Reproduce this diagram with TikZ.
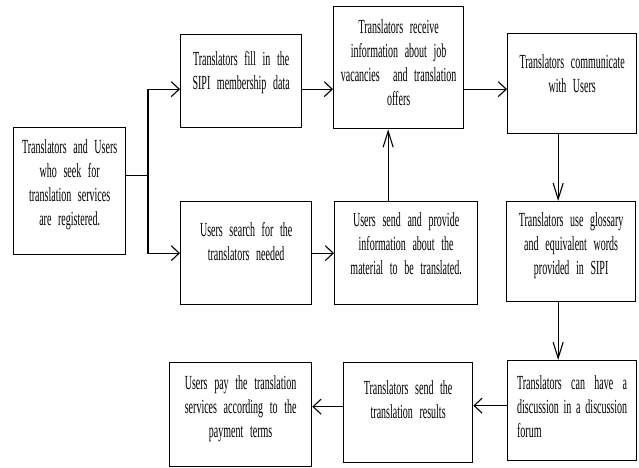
\documentclass[tikz,border=0pt]{standalone}
\usepackage{fontspec}
\usepackage{tikz}
\usetikzlibrary{arrows.meta,calc,positioning}
\newfontfamily\flowfont{Liberation Serif}[FakeStretch=0.5]
\newcommand{\flowtext}{\flowfont\fontsize{20}{24}\selectfont\spaceskip=2.6pt plus 2pt minus 0.8pt\relax}
\tikzset{
  stage/.style={draw,line width=1.3pt,align=center,inner xsep=4pt,inner ysep=0pt,
    anchor=north west,font=\flowtext},
  hflow/.style={line width=1.1pt,-{Straight Barb[length=8pt,width=15pt,line width=1.1pt]}},
  vflow/.style={line width=1.1pt,-{Straight Barb[length=16pt,width=10pt,line width=1.1pt]}}
}

\begin{document}
\begin{tikzpicture}[x=1pt,y=-1pt]
  \useasboundingbox (0,0) rectangle (639,467);
  % first column
  \node[stage,text width=104pt,text height=26pt,text depth=101pt] (reg) at (13,127)
    {Translators and Users\\ who seek for\\ translation services\\ are registered.};
  % upper row
  \node[stage,text width=113pt,text height=31pt,text depth=62pt] (fill) at (180,34)
    {Translators fill in the\\ SIPI membership data};
  \node[stage,text width=122pt,text height=27pt,text depth=95pt] (recv) at (333,6)
    {Translators receive\\ information about job\\ vacancies\ \ and translation\\ offers};
  \node[stage,text width=121pt,text height=35pt,text depth=65pt] (comm) at (507,33)
    {Translators communicate\\ with Users};
  % middle row
  \node[stage,text width=123pt,text height=35pt,text depth=68pt] (search) at (180,201)
    {Users search for the\\ translators needed};
  \node[stage,text width=135pt,text height=25pt,text depth=78pt] (send) at (334,201)
    {Users send and provide\\ information about the\\ material to be translated.};
  \node[stage,text width=121pt,text height=25pt,text depth=75pt] (gloss) at (506,201)
    {Translators use glossary\\ and equivalent words\\ provided in SIPI};
  % lower row
  \node[stage,align=justify,text width=110pt,minimum width=129pt,text height=29pt,text depth=71pt] (forum) at (507,360)
    {Translators can have a\linebreak discussion in a discussion\linebreak forum};
  \node[stage,text width=121pt,text height=32pt,text depth=68pt] (result) at (343,362)
    {Translators send the\\ translation results};
  \node[stage,text width=134pt,text height=27pt,text depth=77pt] (pay) at (169,362)
    {Users pay the translation\\ services according to the\\ payment terms};

  % connectors
  \coordinate (fork) at (148,175.5);
  \draw[line width=1.1pt] (reg.east |- fork) -- (fork);
  \draw[hflow] (fork) |- ([yshift=-8pt]fill.west);
  \draw[hflow] (fork) |- (search.west);
  \draw[hflow] ([yshift=-8pt]fill.west -| fill.east) -- ([yshift=-8pt]fill.west -| recv.west);
  \draw[hflow] ([yshift=-8pt]fill.west -| recv.east) -- ([yshift=-8pt]fill.west -| comm.west);
  \draw[hflow] (search) -- (send);
  \draw[vflow] ([xshift=-18pt]send.north) -- ([xshift=-18pt]send.north |- recv.south);
  \draw[vflow] ([xshift=-14pt]comm.south) -- ([xshift=-14pt]comm.south |- gloss.north);
  \draw[vflow] ([xshift=-14pt]comm.south |- gloss.south) -- ([xshift=-14pt]comm.south |- forum.north);
  \draw[hflow] ([yshift=5pt]forum.west) -- ([yshift=5pt]forum.west -| result.east);
  \draw[hflow] ([yshift=6pt]result.west) -- ([yshift=6pt]result.west -| pay.east);
\end{tikzpicture}
\end{document}
